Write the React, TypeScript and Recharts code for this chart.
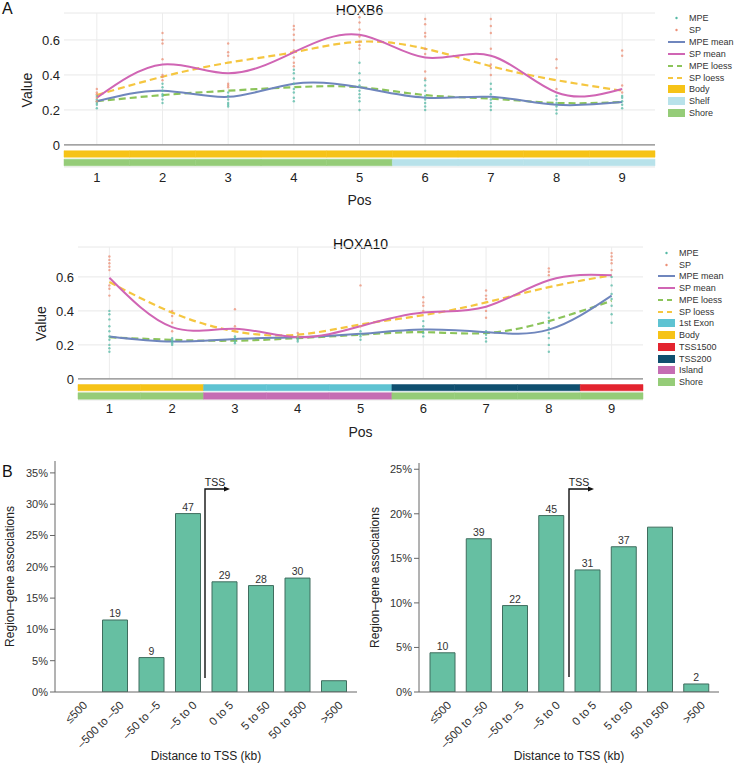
import React from 'react'
import {
  ComposedChart, Line, Scatter, XAxis, YAxis, CartesianGrid, ReferenceLine, ReferenceArea,
  BarChart, Bar, LabelList
} from 'recharts'

const FONT = '"Liberation Sans", Arial, Helvetica, sans-serif'

const positions = [1, 2, 3, 4, 5, 6, 7, 8, 9]

// ---- HOXB6 ----
const b6MpeMean = [0.25, 0.31, 0.275, 0.35, 0.33, 0.27, 0.275, 0.23, 0.245]
const b6SpMean = [0.27, 0.46, 0.41, 0.53, 0.63, 0.5, 0.51, 0.3, 0.32]
const b6MpeLoess = [0.25, 0.285, 0.31, 0.33, 0.33, 0.285, 0.265, 0.24, 0.245]
const b6SpLoess = [0.285, 0.39, 0.47, 0.53, 0.59, 0.55, 0.45, 0.37, 0.31]
const b6MpePoints = [
  [0.21, 0.23, 0.24, 0.25, 0.26, 0.28],
  [0.24, 0.26, 0.28, 0.29, 0.31, 0.33, 0.35],
  [0.22, 0.23, 0.24, 0.26, 0.28, 0.3],
  [0.25, 0.27, 0.3, 0.32, 0.35, 0.38, 0.41, 0.43],
  [0.2, 0.25, 0.27, 0.29, 0.31, 0.34, 0.37, 0.41, 0.47],
  [0.2, 0.22, 0.24, 0.26, 0.28, 0.31, 0.34, 0.37],
  [0.2, 0.22, 0.24, 0.26, 0.29, 0.32, 0.35],
  [0.18, 0.2, 0.22, 0.24, 0.26, 0.28],
  [0.21, 0.23, 0.25, 0.27, 0.28],
]
const b6SpPoints = [
  [0.25, 0.27, 0.29, 0.3, 0.32],
  [0.37, 0.39, 0.4, 0.49, 0.58, 0.6, 0.64],
  [0.33, 0.34, 0.35, 0.51, 0.53, 0.58],
  [0.45, 0.47, 0.5, 0.54, 0.6, 0.63, 0.66, 0.68],
  [0.55, 0.57, 0.59, 0.62, 0.66, 0.7, 0.73],
  [0.38, 0.42, 0.52, 0.55, 0.62, 0.64, 0.69, 0.72],
  [0.4, 0.44, 0.46, 0.55, 0.64, 0.68, 0.72],
  [0.32, 0.44, 0.49],
  [0.3, 0.34, 0.51, 0.54],
]
const b6Row1 = ['Body', 'Body', 'Body', 'Body', 'Body', 'Body', 'Body', 'Body', 'Body']
const b6Row2 = ['Shore', 'Shore', 'Shore', 'Shore', 'Shore', 'Shelf', 'Shelf', 'Shelf', 'Shelf']

// ---- HOXA10 ----
const a10MpeMean = [0.25, 0.22, 0.235, 0.245, 0.265, 0.29, 0.275, 0.29, 0.49]
const a10SpMean = [0.595, 0.305, 0.295, 0.245, 0.31, 0.39, 0.425, 0.58, 0.61]
const a10MpeLoess = [0.245, 0.23, 0.225, 0.24, 0.26, 0.275, 0.27, 0.34, 0.46]
const a10SpLoess = [0.57, 0.39, 0.28, 0.26, 0.32, 0.375, 0.45, 0.54, 0.61]
const a10MpePoints = [
  [0.16, 0.18, 0.2, 0.23, 0.25, 0.28, 0.31, 0.35, 0.38, 0.4],
  [0.2, 0.21, 0.22, 0.23, 0.24],
  [0.21, 0.22, 0.24, 0.25],
  [0.22, 0.23, 0.24, 0.25],
  [0.23, 0.25, 0.26, 0.28],
  [0.25, 0.27, 0.29, 0.31, 0.34],
  [0.22, 0.24, 0.26, 0.28],
  [0.16, 0.2, 0.24, 0.27, 0.3, 0.33, 0.36, 0.39],
  [0.33, 0.38, 0.43, 0.47, 0.5, 0.55, 0.6],
]
const a10SpPoints = [
  [0.49, 0.53, 0.55, 0.64, 0.66, 0.68, 0.7, 0.72],
  [0.28, 0.33, 0.37, 0.4],
  [0.29, 0.31, 0.41],
  [0.25, 0.27],
  [0.31, 0.55],
  [0.4, 0.43, 0.45, 0.48],
  [0.36, 0.4, 0.47, 0.49, 0.52],
  [0.61, 0.63, 0.65],
  [0.64, 0.68, 0.7, 0.72, 0.74],
]
const a10Row1 = ['Body', 'Body', '1st Exon', '1st Exon', '1st Exon', 'TSS200', 'TSS200', 'TSS200', 'TSS1500']
const a10Row2 = ['Shore', 'Shore', 'Island', 'Island', 'Island', 'Shore', 'Shore', 'Shore', 'Shore']

// ---- Panel B ----
const distCats = ['≤500', '–500 to –50', '–50 to –5', '–5 to 0', '0 to 5', '5 to 50', '50 to 500', '>500']
const leftPct = [0, 11.5, 5.5, 28.5, 17.6, 17.0, 18.2, 1.8]
const leftCounts = ['0', '19', '9', '47', '29', '28', '30', '']
const rightPct = [4.4, 17.2, 9.7, 19.8, 13.7, 16.3, 18.5, 0.9]
const rightCounts = ['10', '39', '22', '45', '31', '37', '', '2']

const C = {
  mpe: '#56b9a6',
  sp: '#ec8f76',
  mpeMean: '#6f86bd',
  spMean: '#d065b4',
  mpeLoess: '#8cc45a',
  spLoess: '#f5c640',
  'Body': '#f6c317',
  'Shelf': '#b8e2ea',
  'Shore': '#95cc78',
  '1st Exon': '#5ec3d2',
  'TSS1500': '#e3242f',
  'TSS200': '#0f4f6f',
  'Island': '#c56db3',
} as Record<string, string>

type LegendItem = { label: string; kind: 'dot' | 'line' | 'dash' | 'box'; color: string }

const baseLegend: LegendItem[] = [
  { label: 'MPE', kind: 'dot', color: C.mpe },
  { label: 'SP', kind: 'dot', color: C.sp },
  { label: 'MPE mean', kind: 'line', color: C.mpeMean },
  { label: 'SP mean', kind: 'line', color: C.spMean },
  { label: 'MPE loess', kind: 'dash', color: C.mpeLoess },
  { label: 'SP loess', kind: 'dash', color: C.spLoess },
]

function flatten(points: number[][]) {
  const out: { pos: number; value: number }[] = []
  points.forEach((col, i) => col.forEach((v) => out.push({ pos: positions[i], value: v })))
  return out
}

function Legend({ items, left, top, step, symW }: { items: LegendItem[]; left: number; top: number; step: number; symW: number }) {
  return (
    <div style={{ position: 'absolute', left, top, fontFamily: FONT, fontSize: 9, color: '#333' }}>
      {items.map((it, i) => (
        <div key={it.label} style={{ position: 'absolute', top: i * step - 6, left: 0, height: 12, display: 'flex', alignItems: 'center', whiteSpace: 'nowrap' }}>
          <svg width={symW} height={12} style={{ marginRight: 4 }}>
            {it.kind === 'dot' && <circle cx={symW / 2} cy={6} r={1.2} fill={it.color} />}
            {it.kind === 'line' && <line x1={0} x2={symW} y1={6} y2={6} stroke={it.color} strokeWidth={2} />}
            {it.kind === 'dash' && <line x1={0} x2={symW} y1={6} y2={6} stroke={it.color} strokeWidth={2} strokeDasharray="5 4" />}
            {it.kind === 'box' && <rect x={0} y={2} width={symW} height={8} fill={it.color} />}
          </svg>
          <span>{it.label}</span>
        </div>
      ))}
    </div>
  )
}

const dotShape = (color: string) => (p: any) => <circle cx={p.cx} cy={p.cy} r={1.2} fill={color} fillOpacity={0.75} />

function ProfileChart(props: {
  top: number; plotLeft: number; plotRight: number; marginTop: number; yMin: number; yMax: number
  xAxisH: number; tickSize: number
  mpeMean: number[]; spMean: number[]; mpeLoess: number[]; spLoess: number[]
  mpePts: number[][]; spPts: number[][]; row1: string[]; row2: string[]
}) {
  const rows = positions.map((p, i) => ({
    pos: p, mpeMean: props.mpeMean[i], spMean: props.spMean[i], mpeLoess: props.mpeLoess[i], spLoess: props.spLoess[i],
  }))
  return (
    <div style={{ position: 'absolute', left: 0, top: props.top }}>
      <ComposedChart width={734} height={210} data={rows}
        margin={{ top: props.marginTop, right: 734 - props.plotRight, left: 0, bottom: 0 }}>
        <CartesianGrid vertical={false} stroke="#e8e8e8" />
        {positions.map((p) => (
          <ReferenceLine key={'v' + p} segment={[{ x: p, y: 0 }, { x: p, y: props.yMax }]} stroke="#ececec" />
        ))}
        <XAxis dataKey="pos" type="number" domain={[0.5, 9.5]} ticks={positions} allowDataOverflow
          axisLine={false} tickLine={false} tickSize={props.tickSize} height={props.xAxisH}
          tick={{ fontSize: 13, fill: '#222', fontFamily: FONT }}
          label={{ value: 'Pos', position: 'insideBottom', offset: 5, fontSize: 14, fill: '#222', fontFamily: FONT }} />
        <YAxis type="number" domain={[props.yMin, props.yMax]} ticks={[0, 0.2, 0.4, 0.6]} allowDataOverflow
          width={props.plotLeft} axisLine={false} tickLine={false} tickSize={0} tickMargin={4}
          tick={{ fontSize: 13, fill: '#222', fontFamily: FONT }}
          label={{ value: 'Value', angle: -90, position: 'insideLeft', offset: props.plotLeft - 37, fontSize: 14, fill: '#222', fontFamily: FONT, style: { textAnchor: 'middle' } }} />
        <ReferenceLine y={0} stroke="#8a8a8a" strokeWidth={1.2} />
        {positions.map((p, i) => (
          <ReferenceArea key={'r1' + p} x1={p - 0.5} x2={p + 0.5} y1={-0.07} y2={-0.033}
            fill={C[props.row1[i]]} fillOpacity={1} stroke={C[props.row1[i]]} strokeWidth={0.5} />
        ))}
        {positions.map((p, i) => (
          <ReferenceArea key={'r2' + p} x1={p - 0.5} x2={p + 0.5} y1={-0.119} y2={-0.081}
            fill={C[props.row2[i]]} fillOpacity={1} stroke={C[props.row2[i]]} strokeWidth={0.5} />
        ))}
        <Scatter data={flatten(props.mpePts)} dataKey="value" shape={dotShape(C.mpe)} isAnimationActive={false} />
        <Scatter data={flatten(props.spPts)} dataKey="value" shape={dotShape(C.sp)} isAnimationActive={false} />
        <Line type="natural" dataKey="mpeLoess" stroke={C.mpeLoess} strokeWidth={2.2} strokeDasharray="7 4" dot={false} isAnimationActive={false} />
        <Line type="natural" dataKey="spLoess" stroke={C.spLoess} strokeWidth={2.2} strokeDasharray="7 4" dot={false} isAnimationActive={false} />
        <Line type="natural" dataKey="mpeMean" stroke={C.mpeMean} strokeWidth={2} dot={false} isAnimationActive={false} />
        <Line type="natural" dataKey="spMean" stroke={C.spMean} strokeWidth={2} dot={false} isAnimationActive={false} />
      </ComposedChart>
    </div>
  )
}

function SlantTick(props: any) {
  const { x, y, payload } = props
  const ax = x + 5
  const ay = y + 1
  return (
    <text x={ax} y={ay} textAnchor="end" fontSize={11.5} fill="#333" fontFamily={FONT}
      transform={`rotate(-45 ${ax} ${ay})`} dy="0.6em">{payload.value}</text>
  )
}

function DistChart(props: { left: number; pct: number[]; counts: string[]; yMax: number; ticks: number[]; yAxisW: number; right: number; top: number; labelOffset: number }) {
  const rows = distCats.map((c, i) => ({ cat: c, value: props.pct[i], label: props.counts[i] }))
  return (
    <div style={{ position: 'absolute', left: props.left, top: 440 }}>
      <BarChart width={367} height={323} data={rows} margin={{ top: props.top, right: props.right, left: 0, bottom: 0 }}>
        <XAxis dataKey="cat" interval={0} tick={<SlantTick />} tickLine={false} axisLine={{ stroke: '#666' }}
          height={71} padding={{ left: 5, right: 5 }}
          label={{ value: 'Distance to TSS (kb)', position: 'insideBottom', offset: 3, fontSize: 12, fill: '#222', fontFamily: FONT }} />
        <XAxis xAxisId="top" orientation="top" dataKey="cat" tick={false} tickLine={false} axisLine={{ stroke: '#666' }} height={0} />
        <YAxis domain={[0, props.yMax]} ticks={props.ticks} allowDataOverflow width={props.yAxisW}
          tickFormatter={(v: number) => v + '%'} tickSize={5} tickMargin={2}
          tickLine={{ stroke: '#666' }} axisLine={{ stroke: '#666' }}
          tick={{ fontSize: 11, fill: '#333', fontFamily: FONT }}
          label={{ value: 'Region–gene associations', angle: -90, position: 'insideLeft', offset: props.labelOffset, fontSize: 12, fill: '#222', fontFamily: FONT, style: { textAnchor: 'middle' } }} />
        <YAxis yAxisId="right" orientation="right" tick={false} tickLine={false} axisLine={{ stroke: '#666' }} width={0} />
        <Bar dataKey="value" fill="#66bfa2" stroke="#3f6d5e" strokeWidth={1} barSize={25} isAnimationActive={false}>
          <LabelList dataKey="label" position="top" offset={3} fontSize={10.5} fill="#333" fontFamily={FONT} />
        </Bar>
      </BarChart>
    </div>
  )
}

function TssArrow({ x, yBottom, yTop, len }: { x: number; yBottom: number; yTop: number; len: number }) {
  return (
    <g>
      <polyline points={`${x},${yBottom} ${x},${yTop} ${x + len - 5},${yTop}`} fill="none" stroke="#111" strokeWidth={1.4} />
      <polygon points={`${x + len},${yTop} ${x + len - 6},${yTop - 2.5} ${x + len - 6},${yTop + 2.5}`} fill="#111" />
      <text x={x + 10} y={yTop - 3} textAnchor="middle" fontSize={10.5} fill="#222" fontFamily={FONT}>TSS</text>
    </g>
  )
}

export default function App() {
  const b6Legend: LegendItem[] = [
    ...baseLegend,
    { label: 'Body', kind: 'box', color: C['Body'] },
    { label: 'Shelf', kind: 'box', color: C['Shelf'] },
    { label: 'Shore', kind: 'box', color: C['Shore'] },
  ]
  const a10Legend: LegendItem[] = [
    ...baseLegend,
    ...['1st Exon', 'Body', 'TSS1500', 'TSS200', 'Island', 'Shore'].map((k) => ({ label: k, kind: 'box' as const, color: C[k] })),
  ]
  return (
    <div style={{ position: 'absolute', left: 0, top: 0, width: 734, height: 763, background: '#fff', fontFamily: FONT, overflow: 'hidden' }}>
      <div style={{ position: 'absolute', left: 2, top: 0, fontSize: 16, color: '#111' }}>A</div>
      <div style={{ position: 'absolute', left: 2, top: 463, fontSize: 16, color: '#111' }}>B</div>
      <div style={{ position: 'absolute', left: 64, width: 591, top: 2, textAlign: 'center', fontSize: 14, color: '#111' }}>HOXB6</div>
      <div style={{ position: 'absolute', left: 78, width: 565, top: 236, textAlign: 'center', fontSize: 14, color: '#111' }}>HOXA10</div>

      <ProfileChart top={0} plotLeft={64} plotRight={655} marginTop={13} yMin={-0.126} yMax={0.754}
        xAxisH={43} tickSize={4}
        mpeMean={b6MpeMean} spMean={b6SpMean} mpeLoess={b6MpeLoess} spLoess={b6SpLoess}
        mpePts={b6MpePoints} spPts={b6SpPoints} row1={b6Row1} row2={b6Row2} />
      <Legend items={b6Legend} left={668} top={18} step={11.9} symW={17} />

      <ProfileChart top={232} plotLeft={78} plotRight={643} marginTop={15} yMin={-0.124} yMax={0.776}
        xAxisH={42} tickSize={2}
        mpeMean={a10MpeMean} spMean={a10SpMean} mpeLoess={a10MpeLoess} spLoess={a10SpLoess}
        mpePts={a10MpePoints} spPts={a10SpPoints} row1={a10Row1} row2={a10Row2} />
      <Legend items={a10Legend} left={658} top={253} step={11.73} symW={17} />

      <DistChart left={0} pct={leftPct} counts={leftCounts} yMax={36.9} ticks={[0, 5, 10, 15, 20, 25, 30, 35]}
        yAxisW={55} right={10} top={21} labelOffset={10} />
      <DistChart left={367} pct={rightPct} counts={rightCounts} yMax={25.7} ticks={[0, 5, 10, 15, 20, 25]}
        yAxisW={52} right={15} top={23} labelOffset={8} />

      <svg width={734} height={763} style={{ position: 'absolute', left: 0, top: 0, pointerEvents: 'none' }}>
        <TssArrow x={205} yBottom={678} yTop={489} len={25} />
        <TssArrow x={569} yBottom={677} yTop={489} len={25} />
      </svg>
    </div>
  )
}
